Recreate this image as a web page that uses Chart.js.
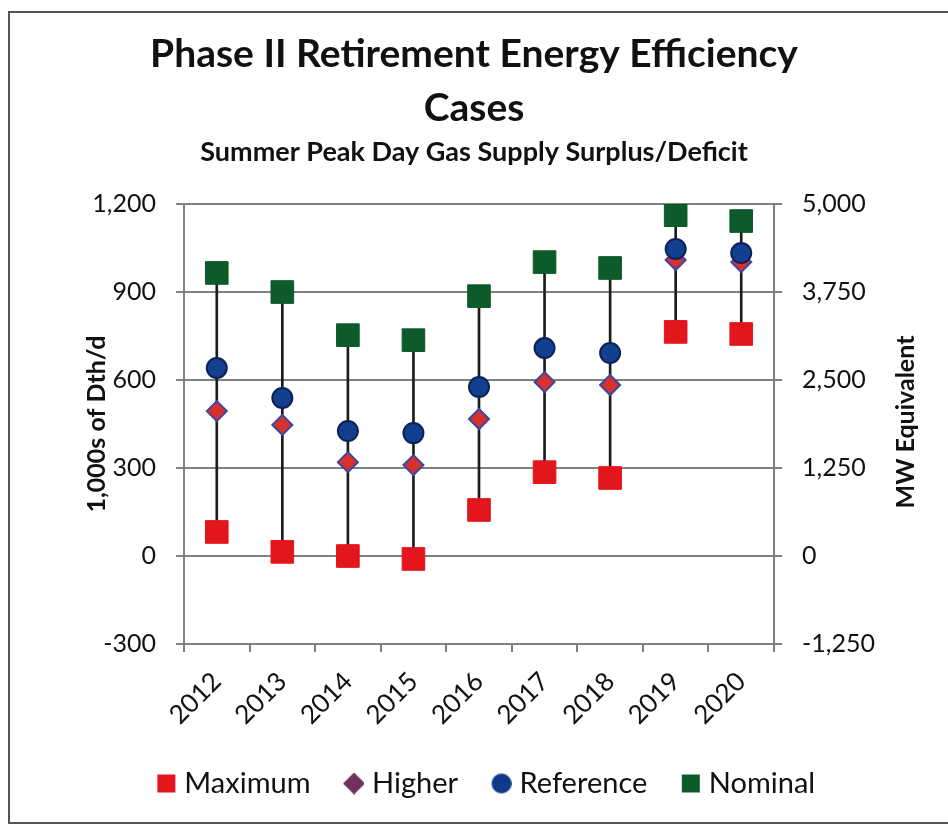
<!DOCTYPE html>
<html>
<head>
<meta charset="utf-8">
<script src="https://cdn.jsdelivr.net/npm/chart.js@4.4.1/dist/chart.umd.min.js"></script>
<style>
  body { margin: 0; background: #fff; }
  #wrap { position: relative; width: 948px; height: 825px; }
  #frame {
    position: absolute; left: 8px; top: 11px; width: 960px; height: 809px;
    border: 2px solid #555; border-right: none; pointer-events: none;
  }
</style>
</head>
<body>
<div id="wrap">
  <canvas id="myChart" width="948" height="825"></canvas>
  <div id="frame"></div>
</div>
<script>
// categories and series (1,000s of Dth/d)
const years = ['2012', '2013', '2014', '2015', '2016', '2017', '2018', '2019', '2020'];
const maximum = [82, 14, 0, -10, 157, 286, 266, 764, 757];
const higher = [494, 447, 320, 310, 467, 593, 583, 1009, 1002];
const reference = [641, 539, 426, 419, 576, 709, 692, 1047, 1033];
const nominal = [965, 900, 753, 736, 886, 1002, 982, 1162, 1142];
// axis ranges
const leftTicks = [-300, 0, 300, 600, 900, 1200];
const rightTicks = [-1250, 0, 1250, 2500, 3750, 5000];

const FONT = 'Lato, "Open Sans", sans-serif';
const gridColor = '#808080';

// vertical connector from lowest to highest case
const ranges = years.map(function(y, i) {
    var vals = [maximum[i], higher[i], reference[i], nominal[i]];
    return [Math.min.apply(null, vals), Math.max.apply(null, vals)];
});

function markerImage(shape, fill, w) {
    // legend marker drawn at the right end of a wider transparent canvas
    var c = document.createElement('canvas');
    c.width = w; c.height = 22;
    var g = c.getContext('2d');
    g.fillStyle = fill;
    var cx = w - 10, cy = 11;
    if (shape === 'rect') {
        g.fillRect(cx - 9, cy - 9, 18, 18);
    } else if (shape === 'diamond') {
        g.beginPath();
        g.moveTo(cx, cy - 11); g.lineTo(cx + 11, cy); g.lineTo(cx, cy + 11); g.lineTo(cx - 11, cy);
        g.closePath(); g.fill();
    } else {
        g.beginPath(); g.arc(cx, cy, 10, 0, Math.PI * 2); g.fill();
    }
    return c;
}

const legendWidth = 37;
const legendItems = [
    { text: 'Maximum', img: markerImage('rect', '#e3161c', legendWidth + 13) },
    { text: 'Higher', img: markerImage('diamond', '#74305c', legendWidth + 13) },
    { text: 'Reference', img: markerImage('circle', '#10398a', legendWidth + 13) },
    { text: 'Nominal', img: markerImage('rect', '#0d5a2a', legendWidth + 13) }
];

const rightTitle = {
    id: 'rightTitle',
    afterDraw: function(chart) {
        var ctx = chart.ctx;
        var area = chart.chartArea;
        ctx.save();
        ctx.translate(906, (area.top + area.bottom) / 2 - 2);
        ctx.rotate(-Math.PI / 2);
        ctx.font = 'bold 25px ' + FONT;
        ctx.fillStyle = '#111';
        ctx.textAlign = 'center';
        ctx.textBaseline = 'middle';
        ctx.fillText('MW Equivalent', 0, 0);
        ctx.restore();
    }
};

function fmt(v) {
    return Number(v).toLocaleString('en-US');
}

const ctx = document.getElementById('myChart').getContext('2d');
const myChart = new Chart(ctx, {
    data: {
        labels: years,
        datasets: [
            {
                type: 'line', label: 'Nominal', data: nominal, showLine: false, order: 1,
                pointStyle: 'rect', pointRadius: 16, pointBackgroundColor: '#0d5a2a',
                pointBorderColor: '#0d5a2a', pointBorderWidth: 1
            },
            {
                type: 'line', label: 'Reference', data: reference, showLine: false, order: 2,
                pointStyle: 'circle', pointRadius: 10, pointBackgroundColor: '#12408f',
                pointBorderColor: '#0b2158', pointBorderWidth: 2
            },
            {
                type: 'line', label: 'Higher', data: higher, showLine: false, order: 3,
                pointStyle: 'rectRot', pointRadius: 10, pointBackgroundColor: '#d8302c',
                pointBorderColor: '#3a48a2', pointBorderWidth: 2
            },
            {
                type: 'line', label: 'Maximum', data: maximum, showLine: false, order: 4,
                pointStyle: 'rect', pointRadius: 16, pointBackgroundColor: '#e3161c',
                pointBorderColor: '#e3161c', pointBorderWidth: 1
            },
            {
                type: 'bar', label: 'range', data: ranges, order: 10,
                backgroundColor: '#1c1c1c', barThickness: 2
            }
        ]
    },
    options: {
        responsive: false,
        animation: false,
        events: [],
        layout: { padding: { left: 0, right: 0, top: 0, bottom: 17 } },
        scales: {
            x: {
                type: 'category',
                offset: true,
                grid: { offset: true, drawOnChartArea: false, tickLength: 8, color: gridColor, lineWidth: 2 },
                border: { color: gridColor, width: 2 },
                ticks: {
                    minRotation: 45, maxRotation: 45, padding: 14,
                    color: '#111', font: { family: FONT, size: 26 }
                },
                afterFit: function(scale) { scale.height = 115; }
            },
            y: {
                position: 'left',
                min: leftTicks[0], max: leftTicks[leftTicks.length - 1],
                afterBuildTicks: function(scale) {
                    scale.ticks = leftTicks.map(function(v) { return { value: v }; });
                },
                grid: { tickLength: 8, color: gridColor, lineWidth: 2 },
                border: { color: gridColor, width: 2 },
                ticks: {
                    padding: 20, color: '#111', font: { family: FONT, size: 25 },
                    callback: function(v) { return fmt(v); }
                },
                title: {
                    display: true, text: '1,000s of Dth/d', color: '#111',
                    font: { family: FONT, size: 25, weight: 'bold' },
                    padding: { top: 82, bottom: 0 }
                },
                afterFit: function(scale) { scale.width = 184; }
            },
            y2: {
                position: 'right',
                min: rightTicks[0], max: rightTicks[rightTicks.length - 1],
                afterBuildTicks: function(scale) {
                    scale.ticks = rightTicks.map(function(v) { return { value: v }; });
                },
                grid: { drawOnChartArea: false, tickLength: 8, color: gridColor, lineWidth: 2 },
                border: { color: gridColor, width: 2 },
                ticks: {
                    padding: 20, color: '#111', font: { family: FONT, size: 25 },
                    callback: function(v) { return fmt(v); }
                },
                afterFit: function(scale) { scale.width = 174; }
            }
        },
        plugins: {
            title: {
                display: true,
                text: ['Phase II Retirement Energy Efficiency', 'Cases'],
                color: '#111',
                font: { family: FONT, size: 39, weight: 'bold', lineHeight: 1.385 },
                padding: { top: 27, bottom: 1 }
            },
            subtitle: {
                display: true,
                text: 'Summer Peak Day Gas Supply Surplus/Deficit',
                color: '#111',
                font: { family: FONT, size: 27, weight: 'bold' },
                padding: { top: 0, bottom: 35.6 }
            },
            legend: {
                position: 'bottom',
                labels: {
                    usePointStyle: true,
                    pointStyleWidth: legendWidth,
                    padding: 10,
                    color: '#111',
                    font: { family: FONT, size: 29 },
                    generateLabels: function(chart) {
                        return legendItems.map(function(item) {
                            return {
                                text: item.text, pointStyle: item.img, fontColor: '#111',
                                fillStyle: 'transparent', strokeStyle: 'transparent', lineWidth: 0
                            };
                        });
                    }
                }
            },
            tooltip: { enabled: false }
        }
    },
    plugins: [rightTitle]
});
</script>
</body>
</html>
